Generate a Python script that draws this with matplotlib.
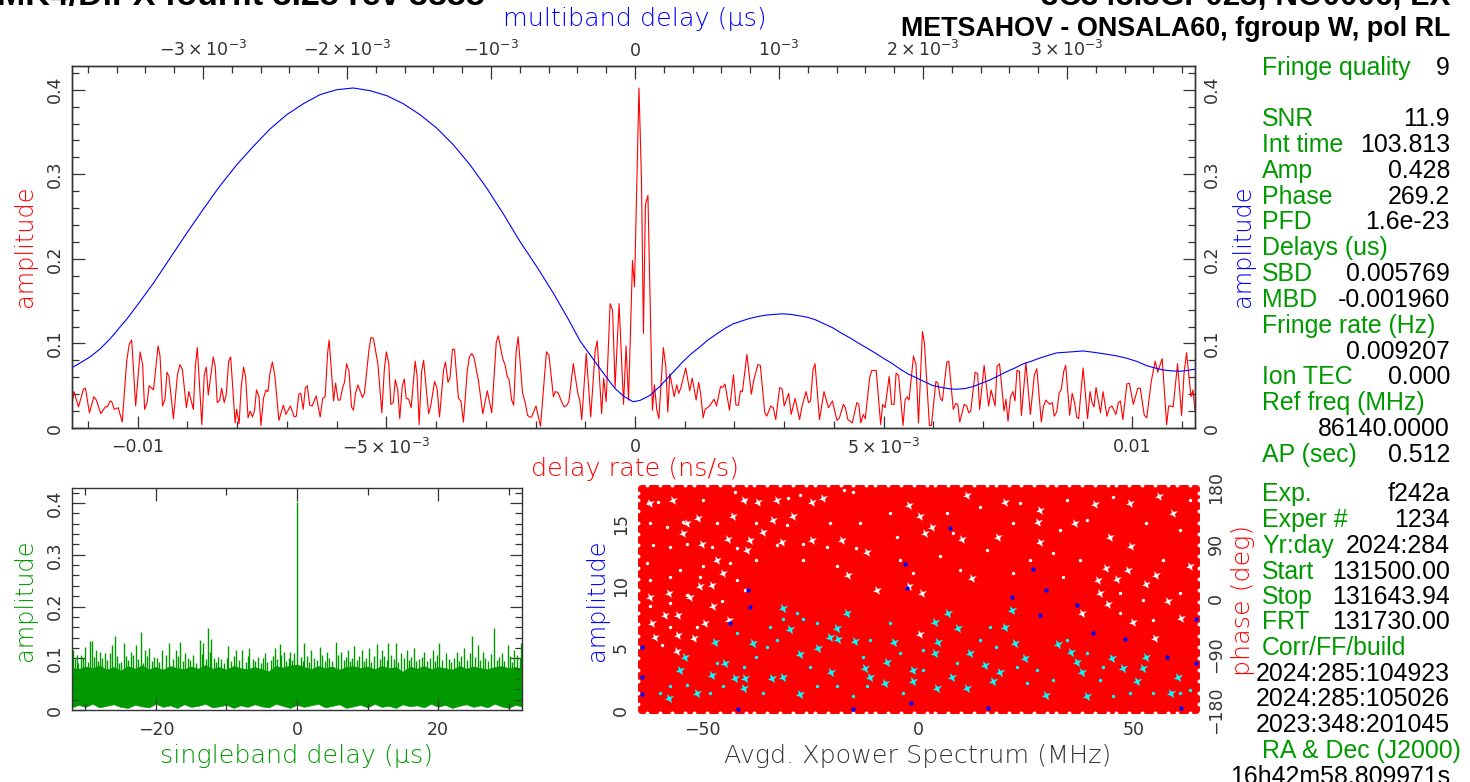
import matplotlib
matplotlib.use("Agg")
import matplotlib.pyplot as plt
from matplotlib.path import Path
from matplotlib.ticker import FixedLocator, FixedFormatter

W, H = 1470, 782
plt.rcParams['mathtext.default'] = 'regular'
plt.rcParams['font.family'] = ['DejaVu Sans']

# delay rate spectrum (ns/s in units of 1e-3, amplitude in units of 1e-3)
rate_milli = [-11.32,-11.28,-11.19,-11.09,-11.05,-10.97,-10.88,-10.83,-10.74,-10.65,-10.61,-10.55,-10.52,-10.47,-10.39,-10.31,-10.22,-10.17,-10.12,-10.04,-9.95,-9.90,-9.86,-9.81,-9.77,-9.68,-9.59,-9.55,-9.50,-9.45,-9.41,-9.37,-9.28,-9.20,-9.15,-9.10,-9.02,-8.97,-8.88,-8.84,-8.80,-8.71,-8.66,-8.62,-8.58,-8.48,-8.44,-8.40,-8.35,-8.31,-8.26,-8.22,-8.17,-8.13,-8.04,-8.01,-7.96,-7.92,-7.87,-7.83,-7.78,-7.74,-7.69,-7.65,-7.61,-7.56,-7.52,-7.47,-7.42,-7.38,-7.34,-7.29,-7.24,-7.16,-7.07,-7.02,-6.93,-6.85,-6.81,-6.76,-6.72,-6.67,-6.63,-6.59,-6.54,-6.49,-6.41,-6.33,-6.28,-6.23,-6.18,-6.15,-6.06,-6.02,-5.97,-5.93,-5.88,-5.84,-5.80,-5.75,-5.70,-5.66,-5.62,-5.57,
-5.48,-5.44,-5.35,-5.31,-5.26,-5.17,-5.09,-5.04,-5.00,-4.95,-4.91,-4.86,-4.82,-4.77,-4.73,-4.68,-4.64,-4.60,-4.55,-4.50,-4.42,-4.38,-4.34,-4.29,-4.25,-4.15,-4.11,-4.03,-3.98,-3.93,-3.85,-3.81,-3.76,-3.72,-3.67,-3.63,-3.55,-3.50,-3.45,-3.37,-3.33,-3.28,-3.24,-3.15,-3.06,-2.97,-2.88,-2.79,-2.75,-2.66,-2.61,-2.57,-2.53,-2.48,-2.44,-2.39,-2.35,-2.26,-2.21,-2.16,-2.12,-2.08,-1.99,-1.90,-1.78,-1.73,-1.64,-1.60,-1.55,-1.46,-1.42,-1.37,-1.33,-1.24,-1.15,-1.11,-1.07,-0.98,-0.89,-0.80,-0.76,-0.67,-0.63,-0.58,-0.50,-0.45,-0.40,-0.32,-0.23,-0.18,-0.13,
-0.05,-0.01,0.08,0.13,0.17,0.21,0.26,0.35,0.39,0.44,0.48,0.57,0.62,0.66,0.70,0.79,0.84,0.88,0.92,1.02,1.10,1.15,1.23,1.28,
1.32,1.37,1.41,1.50,1.59,1.64,1.72,1.76,1.81,1.90,1.98,2.03,2.08,2.12,2.16,2.25,2.34,2.39,2.47,2.52,2.61,2.65,2.73,2.78,2.83,2.91,2.96,3.00,3.09,3.14,3.22,3.31,3.36,3.44,3.49,3.53,3.58,3.62,3.71,3.80,3.89,3.97,4.06,4.11,4.19,4.23,4.28,4.37,4.46,4.50,4.54,4.59,4.63,4.72,4.76,4.85,4.94,4.98,5.03,5.11,5.16,5.21,5.25,5.30,5.39,5.43,5.47,5.51,5.60,5.65,5.70,5.78,5.82,5.92,5.96,6.05,6.09,6.14,6.18,6.27,6.31,
6.40,6.45,6.49,6.53,6.62,6.67,6.71,6.75,6.84,6.89,6.93,7.02,7.11,7.16,7.24,7.28,7.33,7.42,7.46,7.50,7.55,7.60,7.64,7.68,7.73,7.77,7.86,7.95,8.03,8.08,8.17,8.21,8.26,8.34,8.39,8.43,8.48,8.53,8.57,8.62,8.66,8.74,8.79,8.84,8.88,8.92,9.01,9.10,9.15,9.19,9.23,9.27,9.36,9.41,9.49,9.54,9.59,9.67,9.72,9.76,9.81,9.89,9.94,10.02,10.11,10.16,10.24,10.29,10.38,10.46,10.51,10.60,10.69,10.73,10.77,10.82,10.91,10.99,11.04,11.09,11.18,11.22,11.26]
rate_amp_milli = [28,43,25,46,47,18,37,33,17,25,25,32,31,22,24,7,79,99,104,26,90,75,22,30,50,45,97,85,26,34,66,61,11,63,75,69,24,43,22,73,95,4,63,72,39,84,73,30,33,47,30,39,79,84,6,22,5,47,72,61,12,20,13,21,45,37,3,35,45,43,65,78,61,9,27,16,26,13,14,40,41,22,47,50,27,26,38,13,35,37,89,104,32,53,33,33,47,54,76,67,25,21,41,51,
36,41,92,107,106,76,18,69,90,76,28,30,57,45,11,49,58,35,34,24,79,61,4,67,80,17,25,55,47,13,68,78,54,59,93,93,35,32,7,69,84,88,84,57,17,44,18,101,109,82,74,61,57,33,27,90,108,41,31,15,13,13,26,2,90,86,37,43,42,29,25,27,31,76,41,33,10,88,13,92,103,17,59,31,147,139,48,147,28,97,33,
198,167,402,295,112,264,275,21,51,21,11,95,73,19,64,37,51,41,47,71,44,59,33,54,
41,12,22,26,34,26,49,48,52,21,63,27,27,44,43,87,40,57,75,74,18,14,26,24,10,48,46,26,41,16,35,10,26,43,30,32,69,76,10,43,24,32,9,12,28,24,10,6,30,28,6,16,11,60,68,68,4,28,24,61,28,28,65,62,3,33,37,33,85,75,6,114,100,3,3,55,53,35,32,78,79,
22,29,28,7,28,26,18,20,66,64,22,74,26,45,26,73,76,20,34,8,37,43,32,68,67,15,77,16,63,70,7,25,33,28,30,14,19,42,45,67,74,15,41,30,13,11,71,11,43,30,25,48,18,43,14,24,26,16,30,32,10,52,53,28,47,47,15,12,55,79,66,82,4,26,26,25,76,15,65,89,37,45,21]

# multiband delay function (us in units of 1e-3)
mbd_milli = [-3.91,-3.854,-3.785,-3.715,-3.646,-3.576,-3.53,-3.46,-3.345,-3.229,-3.113,-2.998,-2.882,-2.766,-2.651,-2.535,-2.419,-2.303,-2.188,-2.071,-1.956,-1.84,-1.724,-1.609,-1.493,-1.377,-1.262,-1.146,-1.03,-0.915,-0.799,-0.683,-0.567,-0.463,-0.382,-0.278,-0.208,-0.139,-0.076,-0.014,0.035,0.104,0.174,0.243,0.333,0.389,0.451,0.507,0.567,0.625,0.681,0.785,0.854,0.903,0.944,1.021,1.083,1.146,1.201,1.255,1.375,1.431,1.493,1.549,1.609,1.667,1.722,1.785,1.84,1.896,1.956,2.014,2.069,2.132,2.188,2.234,2.292,2.347,2.403,2.465,2.521,2.581,2.639,2.694,2.757,2.813,2.868,2.928,3.021,3.111,3.194,3.276,3.347,3.414,3.486,3.553,3.611,3.667,3.729,3.785,3.833,3.889]
mbd_amp = [.0714,.0769,.0840,.0935,.1053,.1195,.1286,.1444,.1712,.2008,.2304,.2588,.2864,.3112,.3329,.3535,.3704,.3834,.3941,.4000,.4020,.3988,.3929,.3834,.3704,.3546,.3349,.3112,.2837,.2533,.2205,.1909,.1594,.1286,.103,.0785,.0621,.0467,.0373,.0311,.0326,.0385,.0495,.0620,.0785,.0875,.0960,.1041,.1112,.1178,.1231,.129,.1318,.1333,.1340,.135,.1343,.1325,.1308,.1278,.1183,.1124,.1065,.1006,.0947,.0888,.0828,.0763,.0698,.0639,.0592,.0544,.0501,.0479,.0462,.0458,.0467,.0489,.0527,.0568,.0615,.0666,.071,.0757,.0793,.0828,.0858,.0888,.0899,.0911,.0893,.0872,.0852,.0825,.0787,.0737,.071,.0686,.0675,.0671,.068,.0695]

# singleband delay: the solid band and the spikes standing out of it
sb_core_delay = [-32,-31,-30,-29,-28,-27,-26,-25,-24,-23,-22,-21,-20,-19,-18,-17,-16,-15,-14,-13,-12,-11,-10,-9,-8,-7,-6,-5,-4,-3,-2,-1,0,1,2,3,4,5,6,7,8,9,10,11,12,13,14,15,16,17,18,19,20,21,22,23,24,25,26,27,28,29,30,31,32]
sb_core_high = [.081,.079,.084,.081,.086,.078,.083,.076,.085,.080,.086,.079,.083,.078,.085,.081,.079,.084,.080,.087,.080,.083,.078,.085,.081,.079,.083,.079,.075,.085,.082,.086,.088,.083,.079,.085,.081,.084,.078,.083,.085,.081,.084,.079,.085,.081,.083,.074,.084,.080,.085,.079,.083,.081,.078,.085,.080,.084,.081,.079,.083,.085,.081,.083,.080]
sb_core_low = [.004,.010,.006,.012,.005,.008,.011,.006,.004,.010,.007,.005,.012,.006,.009,.004,.011,.006,.008,.012,.005,.007,.010,.004,.009,.006,.011,.007,.005,.012,.008,.004,.010,.006,.009,.012,.005,.008,.011,.004,.007,.010,.005,.012,.006,.008,.004,.011,.007,.009,.005,.012,.006,.010,.004,.008,.011,.006,.009,.005,.012,.007,.004,.010,.006]
sb_spike_delay = [-31.82,-31.23,-30.65,-30.06,-29.37,-29.07,-28.49,-27.90,-27.21,-26.52,-26.18,-25.84,-25.20,-24.56,-23.58,-22.89,-22.10,-21.52,-20.93,-20.29,-19.16,-18.08,-17.10,-16.61,-15.87,-14.74,-13.81,-13.27,-12.68,-12.19,-11.21,-9.74,-8.61,-7.77,-6.79,-5.57,-4.58,-3.11,-2.47,-1.88,-1.00,-0.41,0.0,1.06,2.04,3.27,4.25,5.48,6.21,7.20,8.03,9.16,10.14,11.37,12.10,12.94,13.97,14.80,15.54,16.52,17.99,19.22,20.20,21.18,22.66,23.64,24.86,25.60,26.34,27.96,29.03,29.87,30.75,31.73]
sb_spike_amp = [.116,.106,.106,.122,.133,.133,.116,.113,.110,.111,.126,.143,.090,.130,.113,.126,.150,.116,.119,.103,.116,.129,.116,.132,.110,.106,.135,.129,.158,.138,.103,.123,.116,.116,.119,.103,.110,.119,.128,.113,.113,.110,.402,.129,.116,.122,.113,.132,.113,.116,.124,.116,.119,.128,.116,.129,.129,.110,.116,.119,.113,.116,.129,.110,.113,.119,.143,.126,.113,.159,.110,.126,.116,.129]
sb_fine_delay = [-31.5,-31.0,-30.4,-29.7,-28.8,-28.2,-27.6,-26.9,-25.5,-24.9,-24.2,-23.9,-23.2,-22.5,-21.8,-21.2,-20.6,-19.8,-19.5,-18.6,-17.6,-16.9,-16.2,-15.4,-15.1,-14.3,-13.5,-12.9,-12.4,-11.8,-11.5,-10.8,-10.3,-9.9,-9.3,-9.0,-8.2,-7.3,-7.0,-6.3,-5.9,-5.1,-4.8,-4.2,-3.7,-3.4,-2.8,-2.2,-1.5,-1.2,-0.7,0.5,0.8,1.4,1.7,2.4,2.8,3.6,3.9,4.6,5.0,5.8,6.6,6.9,7.5,7.8,8.5,8.8,9.5,9.8,10.5,10.9,11.7,12.4,12.7,13.3,13.7,14.3,15.2,15.9,16.2,16.9,17.3,17.7,18.4,18.8,19.6,19.9,20.6,21.5,21.9,22.3,23.0,23.3,24.1,24.5,25.2,25.9,26.7,27.1,27.5,28.4,28.7,29.4,30.2,30.5,31.2,31.6]
sb_fine_amp = [.098,.090,.100,.092,.102,.094,.100,.096,.104,.092,.104,.096,.106,.098,.090,.104,.094,.100,.092,.106,.098,.104,.094,.100,.096,.090,.108,.098,.112,.100,.092,.098,.090,.100,.094,.104,.096,.092,.104,.098,.094,.090,.100,.092,.096,.104,.098,.106,.094,.100,.096,.102,.094,.104,.092,.100,.096,.106,.094,.100,.094,.106,.096,.102,.094,.100,.096,.104,.094,.100,.092,.104,.098,.104,.096,.106,.098,.092,.100,.096,.102,.094,.098,.102,.094,.100,.094,.106,.096,.098,.092,.100,.094,.104,.096,.110,.102,.096,.100,.094,.108,.096,.102,.094,.104,.092,.106,.100]

# cross-power panel: phase coverage and the holes seen through it
band_freq = [-64.3, 64.5]
band_low = [-180, -180]
band_high = [180, 180]
white_freq = [-56.8,-22.0,-24.7,-37.1,-51.0,-33.6,-35.9,-39.0,-31.6,-24.7,-17.7,-46.7,-45.2,-47.9,-50.6,-62.2,-52.9,-47.5,-58.7,-55.6,-49.4,-43.8,-55.6,-52.1,-61.0,-61.8,-56.0,-42.9,-54.5,-44.0,-50.2,-11.9,-9.6,-16.2,-39.8,-32.8,-62.2,-40.5,-29.0,-53.7,-57.9,
-2.2,20.2,11.3,28.3,41.0,56.0,59.2,49.2,0.5,3.2,27.9,36.4,44.5,49.5,18.6,28.3,43.7,41.8,48.8,55.3,63.1,-2.2,0.8,42.2,53.0,58.1,61.1,44.1,49.9,55.0,38.0,0.5,10.1,1.6,12.4,46.1]
white_phase = [160.6,163,158,158,132,128,109,96,93,96,96,63,42,23,21,4,3,-12,-26,-26,-39,-34,-58,-64,-61,-39,-85,134,107,98,90,77,15,39,79,161,155,161,134,123,9,
152,158,169,144,154,167,139,155,134,117,125,123,100,86,100,93,50,31,47,39,54,21,9,10,25,-3,-31,-8,-37,-64,-23,-57,97,107,34,33]
white_small_freq = [-62.6,-60.3,-49.8,-42.5,-40.2,-30.1,-27.4,-17.3,-15.0,-62.2,-58.3,-54.5,-46.7,-37.5,-30.5,-20.4,-13.5,-61.4,-57.6,-53.7,-47.9,-42.1,-32.8,-26.6,-21.2,-14.3,-62.9,-55.2,-49.8,-43.6,-37.5,-26.6,-18.9,-62.2,-57.6,-50.6,-42.1,-62.2,-57.6,-53.7,-45.6,-40.2,-57.6,-51.4,-59.5,
-6.5,6.6,14.4,23.6,34.5,45.3,63.1,-5,8.2,22.1,32.9,39.1,53,60.8,-4.2,5.1,15.9,26,31.4,37.6,56.9,-1.1,9.7,22.1,33.7,52.2,60.8,46.8,46.8,54.6]
white_small_phase = [155,158,161,174,161,163,169,177,174,123,117,125,123,123,120,123,123,88,85,90,85,82,88,90,85,82,58,47,53,58,63,63,53,31,36,36,31,-12,-7,7,-4,15,-45,-45,-75,
139,139,150,155,161,166,161,101,107,123,112,128,123,112,63,69,79,63,74,63,63,42,47,42,36,-2,9,9,-23,-34]
cyan_freq = [-54.1,-55.2,-47.9,-42.5,-40.2,-40.5,-51.4,-57.9,-33.9,-31.3,-27.4,-27.4,-23.2,-20.4,-18.5,-14.6,-20.1,-12.3,-11.2,-29.7,-31.3,-16.6,-18.9,-38.2,-44.8,-47.1,
3.9,7.0,9.3,20.2,21.7,-5.7,4.7,-1.1,-1.1,3.9,12.1,7.8,11.3,4.5,19.0,17.5,15.5,22.5,35.6,36.8,24.8,29.8,39.1,47.6,52.2,50.7,60.4,58.8,38.0,32.5,44.9,53.0,-7.3,-7.7]
cyan_amp = [4.3,3.2,2.8,2.6,2.6,1.8,1.4,.94,2.6,2.7,1.3,4.5,5.0,5.9,5.7,5.6,3.1,3.4,2.7,6.5,8.2,7.8,6.6,5.4,3.8,5.5,
7.1,7.8,6.6,6.7,8.1,5.5,5.5,3.2,2.3,4.6,4.6,2.7,1.75,1.75,3.1,2.3,3.6,5.4,4.7,3.9,4.2,1.2,1.1,3.4,3.4,2.3,2.7,1.4,3.1,5.3,4.2,4.3,3.9,2.2]
cyan_small_freq = [-59.9,-57.5,-53.7,-48.3,-45.2,-40.5,-37.5,-35.1,-32.8,-31.3,-26.6,-25.1,-23.5,-18.9,-15,-11.9,-42.1,-34.3,-28.2,-23.5,-11.2,-12.7,-35.9,-46.7,
-6.5,-4.2,1.2,9,14.4,16.7,25.2,27.5,31.4,34.5,39.1,42.2,45.3,49.2,54.6,60.8,63.1,-3.4,1.2,28.3,18.2,22.9,43]
cyan_small_amp = [1.35,1.9,2,1.35,1.9,3.5,4.3,5.1,5.65,7.3,7.3,3.5,1.9,1.9,1.1,1.9,6.2,6.7,7.8,7,5.65,4.3,1.35,3.8,
7,4.6,4.8,3.8,5.65,6.7,2.15,3.2,2.4,5.65,4.6,2.4,1.1,1.35,1.35,1.35,1.6,1.35,3.2,7.7,5.1,3.5,3.5]
blue_freq = [-43.6,-39.4,-39.0,-64.1,-64.1,-64.1,-41.7,-15.0,36.8,40.6,48.0,28.3,21.7,29.8,-2.6,7.4,-1.7,57.7,64.6,64.6,61.1,16.3,-3.0,26.7]
blue_amp = [7.0,9.7,8.3,5.1,2.7,1.3,.06,.06,8.5,6.2,5.7,7.7,9.1,9.7,9.8,14.7,.54,4.3,3.8,7.3,.14,.19,11.8,11.4]
rim_freq = [-63,-60,-57,-54,-52,-49,-46,-43,-40,-38,-35,-32,-29,-26,-24,-21,-18,-15,-12,-10,-7,-4,-1,2,4,7,10,13,16,18,21,24,27,30,32,35,38,41,44,46,49,52,55,58,60,63]
rim_phase = [-170,-152,-133,-115,-96,-78,-60,-41,-23,-5,14,32,51,69,87,106,124,143,161,172]

# text
title_left = "MK4/DiFX fourfit 3.25 rev 3855"
title_right_1 = "3C345.3GP023, NO0006, LX"
title_right_2 = "METSAHOV - ONSALA60, fgroup W, pol RL"
info_rows = [("Fringe quality","9",67),("SNR","11.9",118),("Int time","103.813",144),("Amp","0.428",170),("Phase","269.2",196),("PFD","1.6e-23",221),("Delays (us)","",247),("SBD","0.005769",273),("MBD","-0.001960",299),("Fringe rate (Hz)","",325),("","0.009207",351),("Ion TEC","0.000",376),("Ref freq (MHz)","",402),("","86140.0000",428),("AP (sec)","0.512",454),("Exp.","f242a",493),("Exper #","1234",519),("Yr:day","2024:284",545),("Start","131500.00",571),("Stop","131643.94",596),("FRT","131730.00",621),("Corr/FF/build","",647),("","2024:285:104923",673),("","2024:285:105026",698),("","2023:348:201045",724),("RA & Dec (J2000)","",750),("","16h42m58.809971s",776)]

RED, BLUE, GREEN, CYAN = '#ff0000', '#0000ff', '#009900', '#00ffff'
SANS = ['Liberation Sans', 'DejaVu Sans']
INK = '#333333'
LABEL = 18.3
AMP_LABEL = 17.3
# irregular hole between overlapping round dots
HOLE = Path([(-1, -.3), (-.25, -.4), (.5, -1), (.35, -.1), (1, .55), (.05, .35), (-.5, 1), (-.4, .1), (-1, -.3)], closed=True)

fig = plt.figure(figsize=(W/100, H/100), dpi=100, facecolor='white')

def make_axes(l, t, r, b):
    return fig.add_axes([l/W, 1-b/H, (r-l)/W, (b-t)/H])

def px_text(x, y, s, **kw):
    kw.setdefault('ha', 'center')
    kw.setdefault('va', 'center')
    kw.setdefault('fontsize', LABEL)
    kw.setdefault('fontweight', 'light')
    fig.text(x/W, 1-y/H, s, **kw)

def style(ax, pad=5):
    for s in ax.spines.values():
        s.set_linewidth(1.0)
        s.set_color('#333333')
    ax.tick_params(which='major', direction='in', length=9, width=0.9, color='#333333', labelsize=12.5, labelcolor=INK, pad=pad)
    ax.tick_params(which='minor', direction='in', length=5, width=0.9, color='#333333')

# ---- top panel
ax = make_axes(72, 66, 1195, 428)
ax.plot([v*1e-3 for v in rate_milli], [v*1e-3 for v in rate_amp_milli], color=RED, lw=0.8)
ax.set_xlim(-0.01132, 0.01126)
ax.set_ylim(0, 0.428)
ax.xaxis.set_major_locator(FixedLocator([-0.01, -0.005, 0, 0.005, 0.01]))
ax.xaxis.set_major_formatter(FixedFormatter(['\u22120.01', r'$-5\times10^{-3}$', '0', r'$5\times10^{-3}$', '0.01']))
ax.xaxis.set_minor_locator(FixedLocator([k*1e-3 for k in range(-11, 12)]))
ax.yaxis.set_major_locator(FixedLocator([0, .1, .2, .3, .4]))
ax.yaxis.set_major_formatter(FixedFormatter(['0', '0.1', '0.2', '0.3', '0.4']))
ax.yaxis.set_minor_locator(FixedLocator([k*0.02 for k in range(0, 22)]))
style(ax, pad=7)
ax.tick_params(axis='y', which='both', right=True, labelright=True, left=True, labelleft=True, pad=6)
ax.tick_params(axis='x', which='both', top=False, bottom=True)
for tk in ax.yaxis.get_major_ticks():
    tk.label1.set_rotation(90); tk.label1.set_va('center')
    tk.label2.set_rotation(90); tk.label2.set_va('center')

axb = ax.twiny()
axb.plot([v*1e-3 for v in mbd_milli], mbd_amp, color=BLUE, lw=0.8)
axb.set_xlim(-3.91e-3, 3.889e-3)
axb.xaxis.set_major_locator(FixedLocator([-3e-3, -2e-3, -1e-3, 0, 1e-3, 2e-3, 3e-3]))
axb.xaxis.set_major_formatter(FixedFormatter([r'$-3\times10^{-3}$', r'$-2\times10^{-3}$', r'$-10^{-3}$', '0', r'$10^{-3}$', r'$2\times10^{-3}$', r'$3\times10^{-3}$']))
axb.xaxis.set_minor_locator(FixedLocator([k*2e-4 for k in range(-19, 20)]))
style(axb, pad=4)

px_text(635, 19, 'multiband delay (\u03bcs)', color=BLUE)
px_text(635, 469, 'delay rate (ns/s)', color=RED)
px_text(25, 246, 'amplitude', color=RED, rotation=90, fontsize=AMP_LABEL)
px_text(1243, 246, 'amplitude', color=BLUE, rotation=90, fontsize=AMP_LABEL)

# ---- singleband delay panel
ax2 = make_axes(72, 488, 522, 710)
ax2.fill_between(sb_core_delay, sb_core_low, sb_core_high, color=GREEN, lw=0.4)
ax2.vlines(sb_fine_delay, 0.02, sb_fine_amp, color=GREEN, lw=1.0)
ax2.vlines(sb_spike_delay, 0.02, sb_spike_amp, color=GREEN, lw=1.0)
ax2.set_xlim(-31.9, 31.9)
ax2.set_ylim(0, 0.429)
ax2.xaxis.set_major_locator(FixedLocator([-20, 0, 20]))
ax2.xaxis.set_major_formatter(FixedFormatter(['\u221220', '0', '20']))
ax2.xaxis.set_minor_locator(FixedLocator([-30, -10, 10, 30]))
ax2.yaxis.set_major_locator(FixedLocator([0, .1, .2, .3, .4]))
ax2.yaxis.set_major_formatter(FixedFormatter(['0', '0.1', '0.2', '0.3', '0.4']))
ax2.yaxis.set_minor_locator(FixedLocator([k*0.02 for k in range(0, 22)]))
style(ax2, pad=8)
ax2.tick_params(axis='y', pad=6)
ax2.tick_params(which='both', top=True, right=True)
for tk in ax2.yaxis.get_major_ticks():
    tk.label1.set_rotation(90); tk.label1.set_va('center')
px_text(297, 756, 'singleband delay (\u03bcs)', color=GREEN)
px_text(25, 600, 'amplitude', color=GREEN, rotation=90, fontsize=AMP_LABEL)

# ---- cross-power panel
ax3p = make_axes(641, 488, 1196, 710)
ax3a = ax3p.twinx()
ax3a.patch.set_visible(False)
ax3p.fill_between(band_freq, band_low, band_high, color=RED, lw=5, joinstyle='round', clip_on=False, zorder=3)
ax3p.scatter(white_freq, white_phase, s=40, marker=HOLE, color='white', lw=0, zorder=4, clip_on=False)
ax3p.scatter(white_small_freq, white_small_phase, s=6, color='white', lw=0, zorder=4, clip_on=False)
ax3p.scatter(rim_freq, [185]*len(rim_freq), s=8, color='white', lw=0, zorder=4, clip_on=False)
ax3p.scatter(rim_freq, [-185]*len(rim_freq), s=8, color='white', lw=0, zorder=4, clip_on=False)
ax3p.scatter([-65.1]*len(rim_phase), rim_phase, s=8, color='white', lw=0, zorder=4, clip_on=False)
ax3p.scatter([65.3]*len(rim_phase), rim_phase, s=8, color='white', lw=0, zorder=4, clip_on=False)
ax3a.scatter(cyan_freq, cyan_amp, s=46, marker=HOLE, color=CYAN, lw=0, zorder=4, clip_on=False)
ax3a.scatter(cyan_small_freq, cyan_small_amp, s=6, color=CYAN, lw=0, zorder=4, clip_on=False)
ax3a.scatter(blue_freq, blue_amp, s=10, color=BLUE, lw=0, zorder=4, clip_on=False)
ax3p.set_xlim(-64.3, 64.5)
ax3p.set_ylim(-180, 180)
ax3a.set_ylim(0, 17.9)
ax3p.xaxis.set_major_locator(FixedLocator([-50, 0, 50]))
ax3p.xaxis.set_major_formatter(FixedFormatter(['\u221250', '0', '50']))
ax3p.xaxis.set_minor_locator(FixedLocator([-60, -40, -30, -20, -10, 10, 20, 30, 40, 60]))
ax3a.yaxis.set_major_locator(FixedLocator([0, 5, 10, 15]))
ax3a.yaxis.set_major_formatter(FixedFormatter(['0', '5', '10', '15']))
ax3p.yaxis.set_major_locator(FixedLocator([-180, -90, 0, 90, 180]))
ax3p.yaxis.set_major_formatter(FixedFormatter(['\u2212180', '\u221290', '0', '90', '180']))
style(ax3p, pad=8)
style(ax3a, pad=8)
for s in ax3a.spines.values():
    s.set_visible(False)
ax3p.tick_params(axis='y', left=False, labelleft=False, right=True, labelright=True, length=0, pad=8)
ax3a.tick_params(axis='y', right=False, labelright=False, left=True, labelleft=True, length=0, pad=8)
ax3p.tick_params(axis='x', which='both', top=True)
for tk in ax3p.yaxis.get_major_ticks():
    tk.label2.set_rotation(90); tk.label2.set_va('center')
for tk in ax3a.yaxis.get_major_ticks():
    tk.label1.set_rotation(90); tk.label1.set_va('center')
px_text(918, 756, 'Avgd. Xpower Spectrum (MHz)', color=INK)
px_text(597, 600, 'amplitude', color=BLUE, rotation=90, fontsize=AMP_LABEL)
px_text(1243, 600, 'phase (deg)', color=RED, rotation=90)

# ---- text block
for label, value, y in info_rows:
    if label:
        px_text(1262, y+1, label, ha='left', color=GREEN, fontsize=17.9, family=SANS, fontweight='normal')
    if value:
        px_text(1450, y+1, value, ha='right', color='black', fontsize=17.9, family=SANS, fontweight='normal')

fig.text(485/W, 1-5/H, title_left, ha='right', va='baseline', fontsize=24.5, fontweight='bold', family=SANS)
fig.text(1450/W, 1-5/H, title_right_1, ha='right', va='baseline', fontsize=22.7, fontweight='bold', family=SANS)
fig.text(1450/W, 1-36/H, title_right_2, ha='right', va='baseline', fontsize=19.4, fontweight='bold', family=SANS)

fig.savefig('out.png', dpi=100)
